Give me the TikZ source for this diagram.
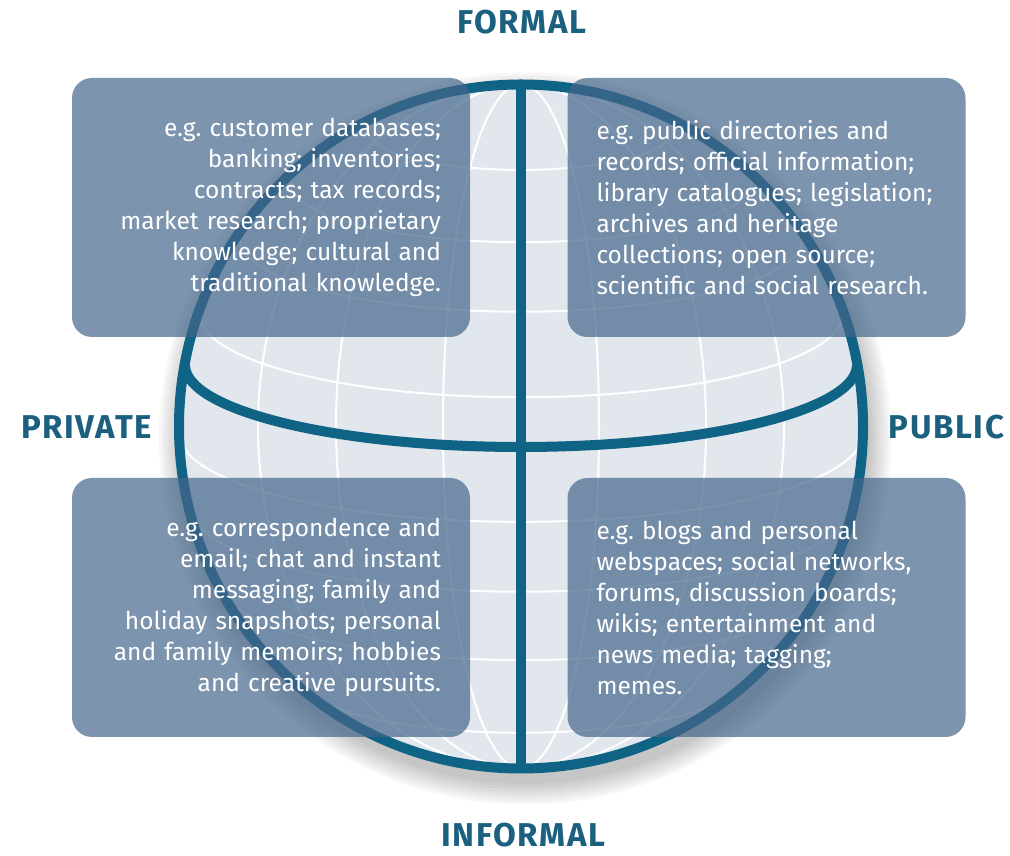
\documentclass[tikz,border=0pt]{standalone}
\usepackage{fontspec}
\setmainfont{Fira Sans}
\newfontfamily\axisfont{Fira Sans}[LetterSpace=5]
\usetikzlibrary{positioning,calc}
\definecolor{rimblue}{HTML}{0F6385}
\definecolor{labelblue}{HTML}{1C6080}
\definecolor{boxblue}{HTML}{44668A}
\definecolor{globefill}{HTML}{E2E7EE}
\frenchspacing

\begin{document}
\begin{tikzpicture}[x=1pt, y=1pt,
    infobox/.style={rounded corners=20pt, fill=boxblue, fill opacity=0.7, text opacity=1,
      text=white, minimum width=398pt, minimum height=259pt, text width=340pt,
      inner xsep=29pt, font=\fontsize{24.5}{31}\selectfont},
    axislabel/.style={text=labelblue, inner sep=1pt,
      font=\axisfont\bfseries\fontsize{33}{33}\selectfont},
    gridline/.style={white, line width=2pt},
    rim/.style={rimblue, line width=10pt}]
  \useasboundingbox (0,0) rectangle (1010,856);
  \coordinate (c) at (521,429.5);
  % soft shadow under the globe
  \foreach \i in {1,...,8}
    \fill[black, opacity=0.03] ($(c)+(4,-12)$) circle ({342+\i*3});
  % globe body and grid
  \fill[globefill] (c) circle (342);
  \begin{scope}
    \clip (c) circle (342);
    \foreach \a in {78,185,263}
      \draw[gridline] (c) ellipse ({\a} and 342);
    \foreach \p in {63.6,47.6,34.6,19.9,-1.2,-13.9,-28.1,-48.6}{
      \pgfmathsetmacro\L{acos(-tan(\p)*tan(15))}
      \draw[gridline] plot[domain=-\L:\L, samples=60, variable=\l]
        ({521+342*cos(\p)*sin(\l)}, {429.5+342*(sin(\p)*cos(15)-cos(\p)*cos(\l)*sin(15))});
    }
  \end{scope}
  % rim, equator and meridian
  \coordinate (n) at (521,771.5);
  \coordinate (s) at (521,87.5);
  \coordinate (w) at (185,491);
  \draw[rim] (c) circle (342);
  \draw[rim] (w) arc[start angle=180, end angle=360, x radius=336, y radius=82];
  \draw[rim] (n) -- (s);
  % the four quadrants
  \node[infobox, align=right] (privformal) at (271,648.5)
    {e.g. customer databases;\\ banking; inventories;\\ contracts; tax records;\\
     market research; proprietary\\ knowledge; cultural and\\ traditional knowledge.};
  \node[infobox, align=left] (pubformal) at (766.5,648.5)
    {e.g. public directories and\\ records; official information;\\ library catalogues; legislation;\\
     archives and heritage\\ collections; open source;\\ scientific and social research.};
  \node[infobox, align=right] (privinformal) at (271,248.5)
    {e.g. correspondence and\\ email; chat and instant\\ messaging; family and\\
     holiday snapshots; personal\\ and family memoirs; hobbies\\ and creative pursuits.};
  \node[infobox, align=left] (pubinformal) at (766.5,248.5)
    {e.g. blogs and personal\\ webspaces; social networks,\\ forums, discussion boards;\\
     wikis; entertainment and\\ news media; tagging;\\ memes.};
  % axis labels
  \node[axislabel] (formal) at (522,834) {FORMAL};
  \node[axislabel] (informal) at (523.5,21) {INFORMAL};
  \node[axislabel] (private) at (86.5,429) {PRIVATE};
  \node[axislabel] (public) at (946.5,429) {PUBLIC};
\end{tikzpicture}
\end{document}
